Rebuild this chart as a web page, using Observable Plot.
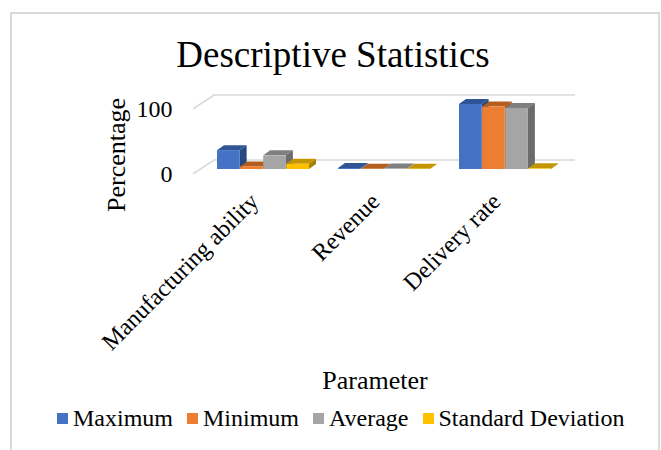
<!DOCTYPE html>
<html>
<head>
<meta charset="utf-8">
<script src="https://cdn.jsdelivr.net/npm/d3@7"></script>
<script src="https://cdn.jsdelivr.net/npm/@observablehq/plot@0.6"></script>
<style>
  body { margin: 0; background: #fff; }
  #wrap { position: relative; width: 661px; height: 450px; overflow: hidden; font-family: "Liberation Serif", "Times New Roman", serif; color: #000; }
  #border { position: absolute; left: 10px; top: 12px; width: 650px; height: 460px; border: 2px solid #d9d9d9; box-sizing: border-box; }
  #title { position: absolute; left: 0; width: 666px; top: 35px; text-align: center; font-size: 37px; line-height: 40px; }
  #chart { position: absolute; left: 0; top: 0; }
  #ylabel { position: absolute; left: 117px; top: 155px; font-size: 26px; line-height: 26px; white-space: nowrap; transform: translate(-50%, -50%) rotate(-90deg); }
  #xlabel { position: absolute; left: 375px; top: 381px; font-size: 26px; line-height: 26px; white-space: nowrap; transform: translate(-50%, -50%); }
  #legend { position: absolute; left: 57px; top: 404px; font-size: 24px; line-height: 28px; white-space: nowrap; display: flex; align-items: center; }
  #legend span.item { margin-right: 14px; display: inline-flex; align-items: center; }
  #legend span.sw { display: inline-block; width: 11px; height: 11px; margin-right: 5px; }
</style>
</head>
<body>
<div id="wrap">
  <div id="border"></div>
  <div id="title">Descriptive Statistics</div>
  <div id="chart"></div>
  <div id="ylabel">Percentage</div>
  <div id="xlabel">Parameter</div>
  <div id="legend"></div>
</div>
<script>
const parameters = ["Manufacturing ability", "Revenue", "Delivery rate"];
const seriesNames = ["Maximum", "Minimum", "Average", "Standard Deviation"];
const maximum = [29, 1.5, 100];
const minimum = [4, 0.5, 96];
const average = [21, 0.8, 94];
const stdDev = [8, 0.5, 1];
const yTicks = [0, 100];

const frontColors = ["#4472C4", "#ED7D31", "#A5A5A5", "#FFC000"];
const topColors = ["#2F5597", "#B55D1F", "#7F7F7F", "#C59500"];
const sideColors = ["#264880", "#9C4F1A", "#6B6B6B", "#A88000"];

const seriesValues = [maximum, minimum, average, stdDev];
const data = [];
seriesNames.forEach((s, i) => parameters.forEach((p, j) => data.push({parameter: p, series: s, si: i, value: seriesValues[i][j]})));

const W = 661, H = 450;
const mL = 193, mR = 86, mT = 104, mB = 281;
const pInner = 0.24, pOuter = 0.19;
const step = (W - mL - mR) / (parameters.length - pInner + 2 * pOuter);
const bw = step * (1 - pInner);
const q = bw / seriesNames.length;
const depthX = 7, depthY = -5;

// turns each rendered bar rect into its 3D top + side faces
function depthFaces(i) {
  return function(index, scales, values, dimensions, context, next) {
    const g = next(index, scales, values, dimensions, context);
    const ns = "http://www.w3.org/2000/svg";
    for (const r of Array.from(g.querySelectorAll("rect"))) {
      const x = +r.getAttribute("x"), y = +r.getAttribute("y");
      const w = +r.getAttribute("width"), h = +r.getAttribute("height");
      const top = document.createElementNS(ns, "path");
      top.setAttribute("d", `M${x},${y}L${x + depthX},${y + depthY}L${x + w + depthX},${y + depthY}L${x + w},${y}Z`);
      top.setAttribute("fill", topColors[i]);
      const side = document.createElementNS(ns, "path");
      side.setAttribute("d", `M${x + w},${y}L${x + w + depthX},${y + depthY}L${x + w + depthX},${y + h + depthY}L${x + w},${y + h}Z`);
      side.setAttribute("fill", sideColors[i]);
      r.replaceWith(top);
      top.after(side);
    }
    return g;
  };
}

const marks = [
  Plot.ruleY(yTicks, {stroke: "#d9d9d9", strokeWidth: 1.5, dy: -9.5, insetLeft: 20}),
  Plot.vector(yTicks, {y: d => d, frameAnchor: "left", dy: 4, rotate: 57, length: 24, anchor: "start", stroke: "#d9d9d9", strokeWidth: 1.5,
    shape: {draw(ctx, l) { ctx.moveTo(0, 0); ctx.lineTo(0, -l); }}}),
  Plot.axisY(yTicks, {tickSize: 0, tickPadding: 21, fontSize: 24, dy: 5, label: null}),
  Plot.axisX({tickSize: 0, tickPadding: 28, dx: -9, tickRotate: -45, fontSize: 24, label: null})
];
seriesNames.forEach((s, i) => {
  const sub = data.filter(d => d.si === i);
  marks.push(Plot.barY(sub, {x: "parameter", y: "value", fill: sideColors[i], insetLeft: i * q, insetRight: (3 - i) * q, render: depthFaces(i)}));
  marks.push(Plot.barY(sub, {x: "parameter", y: "value", fill: frontColors[i], insetLeft: i * q, insetRight: (3 - i) * q}));
});

const chart = Plot.plot({
  width: W, height: H,
  marginLeft: mL, marginRight: mR, marginTop: mT, marginBottom: mB,
  style: {fontFamily: "'Liberation Serif', 'Times New Roman', serif", color: "#000", background: "transparent"},
  x: {domain: parameters, paddingInner: pInner, paddingOuter: pOuter},
  y: {domain: [0, 100]},
  marks
});
chart.style.overflow = "visible";
document.getElementById("chart").appendChild(chart);

const legend = document.getElementById("legend");
seriesNames.forEach((s, i) => {
  const item = document.createElement("span");
  item.className = "item";
  const sw = document.createElement("span");
  sw.className = "sw";
  sw.style.background = frontColors[i];
  item.appendChild(sw);
  item.appendChild(document.createTextNode(s));
  legend.appendChild(item);
});
</script>
</body>
</html>
